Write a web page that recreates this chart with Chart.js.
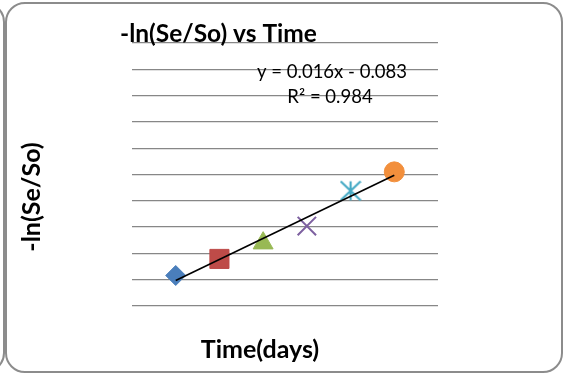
<!DOCTYPE html>
<html>
<head>
<meta charset="utf-8">
<script src="https://cdn.jsdelivr.net/npm/chart.js@4/dist/chart.umd.min.js"></script>
<style>
  html, body { margin: 0; padding: 0; background: #fff; }
  #wrap { position: relative; width: 563px; height: 374px; overflow: hidden; }
  .frame { position: absolute; box-sizing: border-box; border: 2px solid #8c8c8c; border-radius: 20px; }
  #chart { position: absolute; left: 0; top: 0; }
</style>
</head>
<body>
<div id="wrap">
  <div class="frame" style="left:-200px; top:2px; width:205px; height:371px;"></div>
  <div class="frame" style="left:5px; top:2px; width:558px; height:371px;"></div>
  <canvas id="chart" width="563" height="374"></canvas>
</div>
<script>
// Data
const timeDays = [5, 10, 15, 20, 25, 30];
const lnRatio = [0.016, 0.079, 0.139, 0.204, 0.338, 0.41];
const seriesColors = ['#4a7ebb', '#be4b48', '#98b954', '#7d60a0', '#46aac5', '#f28f3c'];
const seriesMarkers = ['rectRot', 'rect', 'triangle', 'crossRot', 'asterisk', 'circle'];
const markerSizes = [10, 13.5, 11.5, 13, 10, 10];

// Trendline as printed on the chart
const trendSlope = 0.016;
const trendIntercept = -0.083;
const trendLabel = 'y = 0.016x - 0.083';
const r2Label = 'R\u00B2 = 0.984';

// Axis ranges (no tick labels are shown)
const xRange = [0, 35];
const yRange = [-0.1, 0.9];
const yStep = 0.1;

function asteriskMarker(color) {
    const c = document.createElement('canvas');
    c.width = 22; c.height = 22;
    const g = c.getContext('2d');
    g.strokeStyle = color;
    g.lineWidth = 2.2;
    g.beginPath();
    g.moveTo(1, 1.5); g.lineTo(21, 20.5);
    g.moveTo(21, 1.5); g.lineTo(1, 20.5);
    g.moveTo(11, 1.5); g.lineTo(11, 20.5);
    g.stroke();
    return c;
}

const pointSets = timeDays.map((t, i) => {
    const style = seriesMarkers[i] === 'asterisk' ? asteriskMarker(seriesColors[i]) : seriesMarkers[i];
    const lineMarker = seriesMarkers[i] === 'crossRot';
    return {
        label: 'Series' + (i + 1),
        data: [{ x: t, y: lnRatio[i] }],
        pointStyle: style,
        pointRadius: markerSizes[i],
        pointBackgroundColor: seriesColors[i],
        pointBorderColor: seriesColors[i],
        pointBorderWidth: lineMarker ? 2 : 1,
        showLine: false,
        order: 1
    };
});

const xFirst = timeDays[0];
const xLast = timeDays[timeDays.length - 1];
const trendSet = {
    label: 'Linear',
    data: [
        { x: xFirst, y: trendSlope * xFirst + trendIntercept },
        { x: xLast, y: trendSlope * xLast + trendIntercept }
    ],
    showLine: true,
    borderColor: '#000',
    borderWidth: 1.6,
    pointRadius: 0,
    order: 0
};

// Texts drawn on top of the chart, Excel style
const textPlugin = {
    id: 'labels',
    afterDraw(chart) {
        const ctx = chart.ctx;
        ctx.save();
        ctx.fillStyle = '#000';
        ctx.textBaseline = 'alphabetic';

        ctx.font = 'bold 24.5px Lato';
        ctx.textAlign = 'left';
        ctx.fillText('-ln(Se/So) vs Time', 120, 42);

        ctx.font = '18.5px Lato';
        ctx.textAlign = 'center';
        ctx.fillText(trendLabel, 332, 78);
        ctx.fillText(r2Label, 330, 103);

        ctx.font = 'bold 25px Lato';
        ctx.fillText('Time(days)', 260, 358);

        ctx.translate(40, 197);
        ctx.rotate(-Math.PI / 2);
        ctx.fillText('-ln(Se/So)', 0, 0);
        ctx.restore();
    }
};

new Chart(document.getElementById('chart'), {
    type: 'scatter',
    data: { datasets: [trendSet].concat(pointSets) },
    options: {
        responsive: false,
        animation: false,
        layout: { padding: { left: 132, right: 125, top: 43, bottom: 68 } },
        plugins: { legend: { display: false }, tooltip: { enabled: false } },
        scales: {
            x: {
                display: false,
                min: xRange[0],
                max: xRange[1]
            },
            y: {
                min: yRange[0],
                max: yRange[1],
                ticks: { display: false, stepSize: yStep },
                grid: { color: '#878787', lineWidth: 1.3, drawTicks: false },
                border: { display: false }
            }
        }
    },
    plugins: [textPlugin]
});
</script>
</body>
</html>
